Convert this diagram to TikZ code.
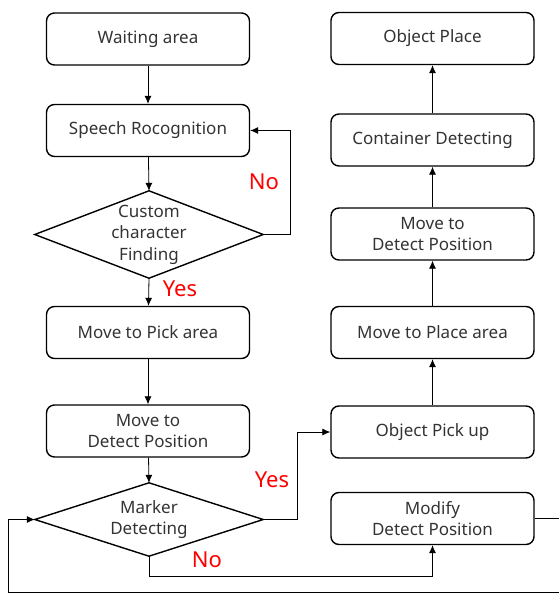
\documentclass[tikz,border=0pt]{standalone}
\usepackage{fontspec}
\setmainfont{Noto Sans}
\usetikzlibrary{shapes.geometric,arrows.meta}
\begin{document}
\begin{tikzpicture}[x=1pt,y=-1pt,
  box/.style={draw, rounded corners=8pt, line width=1.4pt, minimum width=203pt, minimum height=52pt, align=center, inner sep=0pt, font=\fontsize{17}{21}\selectfont, text=black!80},
  dia/.style={rectangle, minimum width=228pt, inner sep=0pt, align=center, font=\fontsize{17}{21.5}\selectfont, text=black!80},
  diaedge/.style={draw, line width=1.4pt, line join=miter},
  con/.style={draw, line width=0.8pt, -{Latex[length=8pt,width=7pt]}},
  lbl/.style={text=red, font=\fontsize{22}{24}\selectfont, inner sep=0pt}]
\useasboundingbox (0,0) rectangle (559,594);
\node[box] (wait) at (148,39) {Waiting area};
\node[box] (speech) at (148,130.5) {Speech Rocognition};
\node[dia, minimum height=87pt] (custom) at (149,234.5) {Custom\\character\\Finding};
\node[box] (pick) at (148,332.5) {Move to Pick area};
\node[box] (detect1) at (148,431) {Move to\\Detect Position};
\node[dia, minimum height=73pt] (marker) at (149,519.5) {Marker\\Detecting};
\node[box] (place) at (432.5,38.5) {Object Place};
\node[box] (container) at (432.5,140) {Container Detecting};
\node[box] (detect2) at (432.5,234) {Move to\\Detect Position};
\node[box] (placearea) at (432.5,332.5) {Move to Place area};
\node[box] (pickup) at (432.5,432) {Object Pick up};
\node[box] (modify) at (432.5,518.5) {Modify\\Detect Position};
\draw[diaedge] (custom.west) -- (custom.north) -- (custom.east) -- (custom.south) -- cycle;
\draw[diaedge] (marker.west) -- (marker.north) -- (marker.east) -- (marker.south) -- cycle;
\coordinate (r1) at (290,234.5);
\coordinate (r2) at (290,130.5);
\coordinate (y1) at (297,519.5);
\coordinate (y2) at (297,432);
\coordinate (n1) at (149,576);
\coordinate (n2) at (432.5,576);
\coordinate (m1) at (566,518.5);
\coordinate (m2) at (566,592.5);
\coordinate (m3) at (8,592.5);
\coordinate (m4) at (8,519.5);
\draw[con] (wait) -- (speech);
\draw[con] (speech) -- (custom.north);
\draw[con] (custom.east) -- (r1) -- (r2) -- (speech.east);
\draw[con] (custom.south) -- (pick);
\draw[con] (pick) -- (detect1);
\draw[con] (detect1) -- (marker.north);
\draw[con] (marker.east) -- (y1) -- (y2) -- (pickup.west);
\draw[con] (marker.south) -- (n1) -- (n2) -- (modify.south);
\draw[con] (pickup) -- (placearea);
\draw[con] (placearea) -- (detect2);
\draw[con] (detect2) -- (container);
\draw[con] (container) -- (place);
\draw[con] (modify.east) -- (m1) -- (m2) -- (m3) -- (m4) -- (marker.west);
\node[lbl] (no1) at (264,182) {No};
\node[lbl] (yes1) at (180,289) {Yes};
\node[lbl] (yes2) at (272,480) {Yes};
\node[lbl] (no2) at (207,560) {No};
\end{tikzpicture}
\end{document}
